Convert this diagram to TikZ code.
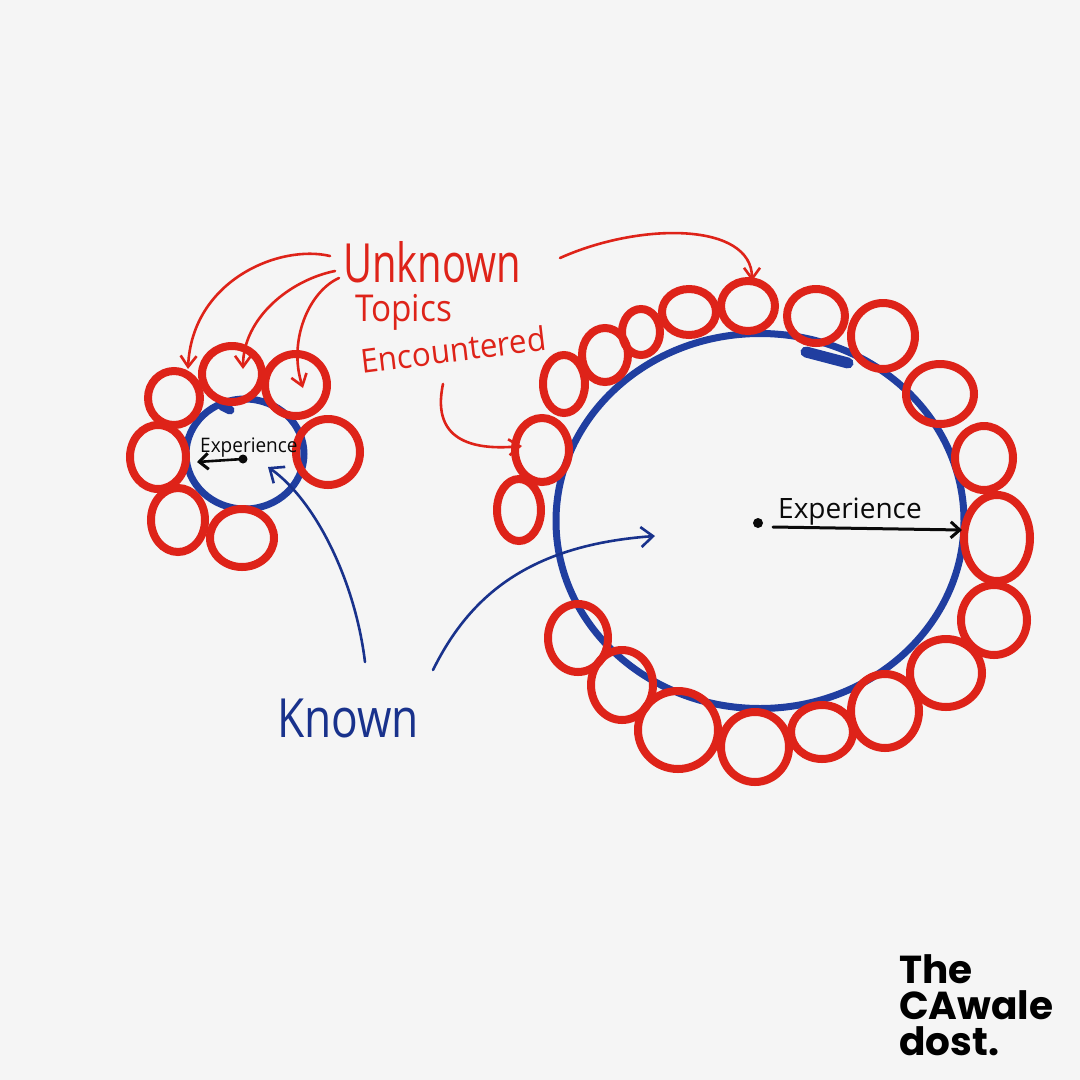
\documentclass[tikz,border=0pt]{standalone}
\usepackage{fontspec}
\usetikzlibrary{shapes.geometric,arrows.meta}
\newfontfamily\hand{Open Sans}
\newfontfamily\logofont{Poppins}
\definecolor{bgc}{RGB}{245,245,245}
\definecolor{redink}{RGB}{222,35,25}
\definecolor{bluecirc}{RGB}{32,62,160}
\definecolor{blueink}{RGB}{25,50,140}
\definecolor{blackink}{RGB}{10,10,10}
\tikzset{
  rc/.style={draw=redink, line width=8pt, ellipse, inner sep=0pt},
  bc/.style={draw=bluecirc, line width=7pt, ellipse, inner sep=0pt},
  redarrow/.style={draw=redink, line width=2.6pt, line cap=round, -{Straight Barb[length=11pt,width=16pt,line width=2.6pt]}},
  bluearrow/.style={draw=blueink, line width=2.6pt, line cap=round, -{Straight Barb[length=12pt,width=20pt,line width=2.6pt]}},
  blackarrow/.style={draw=blackink, line width=3pt, line cap=round, -{Straight Barb[length=9pt,width=16pt,line width=3pt]}},
  redtxt/.style={text=redink, inner sep=0pt},
}
\begin{document}
\begin{tikzpicture}[x=1pt,y=-1pt]
\fill[bgc] (0,0) rectangle (1080,1080);
\useasboundingbox (0,0) rectangle (1080,1080);

% blue "known" circles
\node[bc, minimum width=118pt, minimum height=110pt] (smallknown) at (245,454) {};
\node[bc, minimum width=408pt, minimum height=375pt] (bigknown) at (760,521) {};
\draw[bluecirc, line width=11pt, line cap=round] (806,352) -- (848,363);
\draw[bluecirc, line width=9pt, line cap=round] (222,406) -- (230,410);

% small red circles
\foreach \x/\y/\a/\b [count=\i] in {
  174/398/26/27, 232/374/30/28, 296/385/31/31, 158/457/28/32,
  328/452/32/33, 178/520/27/32, 242/538/32/29}
  \node[rc, minimum width=2*\a, minimum height=2*\b] (s\i) at (\x,\y) {};

% big red circles
\foreach \x/\y/\a/\b [count=\i] in {
  519/510/22/31, 542/450/27/32, 564/384/21/29, 605/355/23/27,
  641/332/19/23, 689/312/27/23, 748/306/27/25, 816/316/29/27,
  883/336/32/33, 940/394/34/30, 984/458/29/32, 997/538/33/43,
  994/620/33/35, 946/673/36/34, 885/711/34/37, 822/732/31/27,
  755/747/34/35, 678/730/40/39, 622/685/31/35, 578/638/30/34}
  \node[rc, minimum width=2*\a, minimum height=2*\b] (b\i) at (\x,\y) {};

% red labels
\node[redtxt, anchor=base west, font=\hand\fontsize{54}{54}\selectfont, xscale=0.74] (unknown) at (343,282) {Unknown};
\node[redtxt, anchor=base west, font=\hand\fontsize{37}{37}\selectfont, xscale=0.9] (topics) at (355,321) {Topics};
\node[redtxt, anchor=base west, font=\hand\fontsize{33}{33}\selectfont, xscale=0.95, rotate=7] (encountered) at (362,374) {Encountered};

% red connectors
\coordinate (u1) at (330,256);
\coordinate (u2) at (335,271);
\coordinate (u3) at (339,278);
\coordinate (u4) at (560,258);
\coordinate (e5) at (443,384);
\coordinate (t1) at (188,369);
\coordinate (t2) at (243,369);
\coordinate (t3) at (303,388);
\coordinate (t4) at (752,281);
\coordinate (t5) at (522,446);
\draw[redarrow] (u1) .. controls (280,244) and (192,280) .. (t1);
\draw[redarrow] (u2) .. controls (290,280) and (243,318) .. (t2);
\draw[redarrow] (u3) .. controls (308,292) and (288,342) .. (t3);
\draw[redarrow] (u4) .. controls (640,222) and (752,222) .. (t4);
\draw[redarrow] (e5) .. controls (430,445) and (480,450) .. (t5);

% blue label and connectors
\node[text=blueink, inner sep=0pt, anchor=base west, font=\hand\fontsize{54}{54}\selectfont, xscale=0.82] (known) at (277,737) {Known};
\coordinate (k1) at (365,662);
\coordinate (k2) at (433,670);
\coordinate (kt1) at (268,467);
\coordinate (kt2) at (655,536);
\draw[bluearrow] (k1) .. controls (355,580) and (315,500) .. (kt1);
\draw[bluearrow] (k2) .. controls (470,595) and (530,545) .. (kt2);

% experience radii
\coordinate (sc) at (243,459);
\coordinate (se) at (197,462);
\fill[blackink] (sc) circle (4.5pt);
\draw[blackarrow, line width=2.6pt] (sc) -- (se);
\node[inner sep=0pt, anchor=base west, font=\hand\fontsize{20}{20}\selectfont, text=blackink, xscale=0.95] (smallexp) at (200,452) {Experience};

\coordinate (bc0) at (758,523);
\coordinate (bcs) at (773,527);
\coordinate (bce) at (962,530);
\fill[blackink] (bc0) circle (5pt);
\draw[blackarrow] (bcs) -- (bce);
\node[inner sep=0pt, anchor=base west, font=\hand\fontsize{28}{28}\selectfont, text=blackink] (bigexp) at (778,518) {Experience};

% logo
\node[inner sep=0pt, anchor=north west, align=left, text=black, font=\logofont\bfseries\fontsize{39}{36}\selectfont] (logo) at (899,954) {The\\CAwale\\dost.};
\end{tikzpicture}
\end{document}
